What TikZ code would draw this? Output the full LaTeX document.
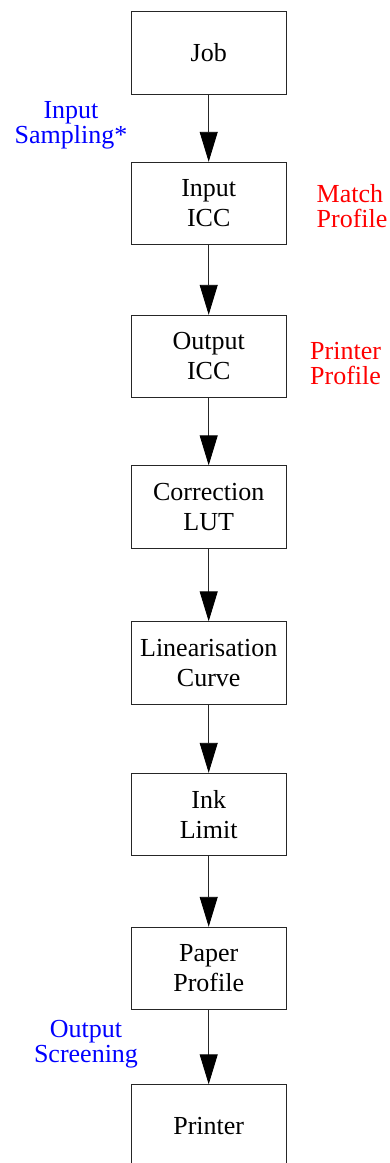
\documentclass[tikz,border=0pt]{standalone}
\usepackage{fontspec}
\setmainfont{Liberation Serif}
\usetikzlibrary{arrows.meta}
\begin{document}
\begin{tikzpicture}[x=1pt,y=-1pt,
  box/.style={draw=black!85,line width=0.9pt,minimum width=154.5pt,minimum height=82.5pt,
    inner sep=0pt,align=center,font=\fontsize{26}{30}\selectfont},
  lbl/.style={inner sep=0pt,font=\fontsize{26}{25}\selectfont},
  flow/.style={draw=black!85,line width=0.9pt,-{Triangle[width=18pt,length=30pt,fill=black,color=black]}}]
\useasboundingbox (0,0) rectangle (390,1163);
\clip (0,0) rectangle (390,1163);
\node[box] (job) at (208.7,53) {Job};
\node[box] (inicc) at (208.7,203.5) {Input\\ICC};
\node[box] (outicc) at (208.7,356.5) {Output\\ICC};
\node[box] (lut) at (208.7,507) {Correction\\LUT};
\node[box] (lin) at (208.7,663) {Linearisation\\Curve};
\node[box] (ink) at (208.7,814.5) {Ink\\Limit};
\node[box] (paper) at (208.7,968.5) {Paper\\Profile};
\node[box] (printer) at (208.7,1126) {Printer};
\draw[flow] (job.south) -- (inicc.north);
\draw[flow] (inicc.south) -- (outicc.north);
\draw[flow] (outicc.south) -- (lut.north);
\draw[flow] (lut.south) -- (lin.north);
\draw[flow] (lin.south) -- (ink.north);
\draw[flow] (ink.south) -- (paper.north);
\draw[flow] (paper.south) -- (printer.north);
\node[lbl,blue,align=center] (insamp) at (71,125.5) {Input\\Sampling*};
\node[lbl,red,align=left,anchor=west] (match) at (316.5,206.5) {Match\\Profile};
\node[lbl,red,align=left,anchor=west] (pprof) at (310,363.5) {Printer\\Profile};
\node[lbl,blue,align=center] (outscr) at (86,1044.5) {Output\\Screening};
\end{tikzpicture}
\end{document}
